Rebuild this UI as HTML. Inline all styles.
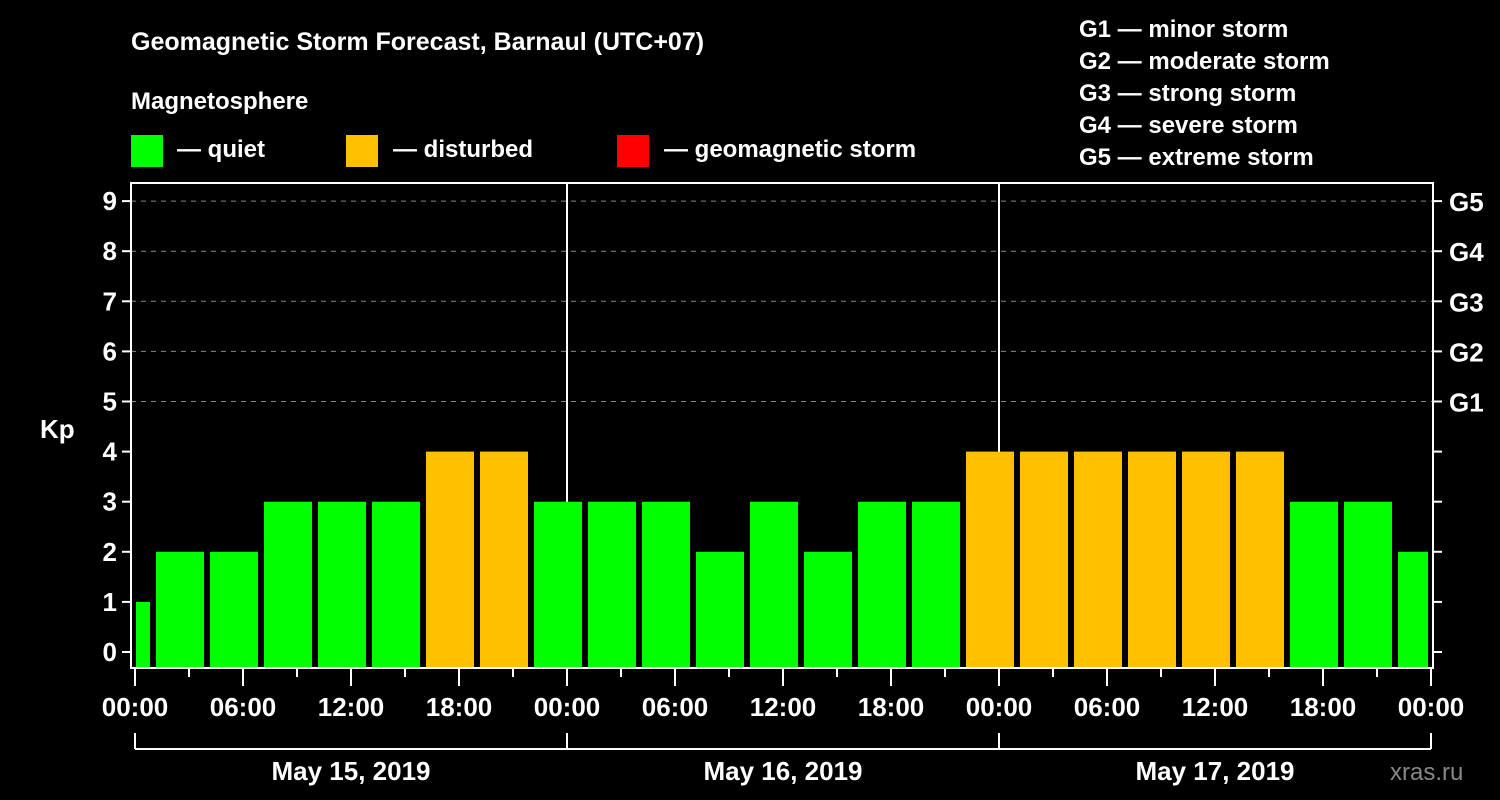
<!DOCTYPE html>
<html><head><meta charset="utf-8"><style>
html,body{margin:0;padding:0;background:#000;}
svg{display:block;font-family:"Liberation Sans",Arial,sans-serif;font-weight:bold;}
</style></head><body>
<svg id="c" width="1500" height="800" xmlns="http://www.w3.org/2000/svg">
<rect width="1500" height="800" fill="#000"/>
<text x="131" y="50" fill="#fff" font-size="25">Geomagnetic Storm Forecast, Barnaul (UTC+07)</text>
<text x="131" y="109" fill="#fff" font-size="24">Magnetosphere</text>
<g><rect x="131" y="135" width="32" height="32" fill="#00ff00"/><text x="177" y="157" fill="#fff" font-size="24">— quiet</text></g>
<g><rect x="346" y="135" width="32" height="32" fill="#ffc000"/><text x="393" y="157" fill="#fff" font-size="24">— disturbed</text></g>
<g><rect x="617" y="135" width="32" height="32" fill="#ff0000"/><text x="664" y="157" fill="#fff" font-size="24">— geomagnetic storm</text></g>
<g fill="#fff" font-size="24">
<text x="1079" y="37">G1 — minor storm</text>
<text x="1079" y="69">G2 — moderate storm</text>
<text x="1079" y="101">G3 — strong storm</text>
<text x="1079" y="133">G4 — severe storm</text>
<text x="1079" y="165">G5 — extreme storm</text>
</g>
<text x="40" y="438" fill="#fff" font-size="26">Kp</text>
<text x="1390" y="780" fill="#888" font-size="24" font-weight="normal">xras.ru</text>
<g id="grid"></g><g id="bars"></g><g id="axes"></g>
</svg>
<script>
const kpValues=[1,2,2,3,3,3,4,4,3,3,3,2,3,2,3,3,4,4,4,4,4,4,3,3,2];
const binStartHours=[-2,1,4,7,10,13,16,19,22,25,28,31,34,37,40,43,46,49,52,55,58,61,64,67,70];
const yTicks=[0,1,2,3,4,5,6,7,8,9];
const gLabels=["G1","G2","G3","G4","G5"];
const timeLabels=["00:00","06:00","12:00","18:00","00:00","06:00","12:00","18:00","00:00","06:00","12:00","18:00","00:00"];
const dayLabels=["May 15, 2019","May 16, 2019","May 17, 2019"];
const NS="http://www.w3.org/2000/svg";
const X=h=>135+h*18, Y=v=>652-v*50.1;
const L=131,R=1433,T=183,B=668;
function mk(p,t,a){const e=document.createElementNS(NS,t);for(const k in a)e.setAttribute(k,a[k]);p.appendChild(e);return e;}
const grid=document.getElementById('grid'),bars=document.getElementById('bars'),axes=document.getElementById('axes');
yTicks.forEach(v=>{if(v>=5){const l=mk(grid,'line',{x1:L,x2:R,y1:Y(v),y2:Y(v),stroke:'#888','stroke-dasharray':'5,5','stroke-width':1});

}});
[24,48].forEach(h=>{const l=mk(grid,'line',{x1:X(h),x2:X(h),y1:T,y2:B,stroke:'#fff','stroke-width':2});

});
kpValues.forEach((v,i)=>{const s=binStartHours[i];let x1=Math.max(X(s)+3,136),x2=Math.min(X(s+3)-3,1428);
const c=v>=5?'#ff0000':(v>=4?'#ffc000':'#00ff00');
const r=mk(bars,'rect',{x:x1,y:Y(v),width:x2-x1,height:B-1-Y(v),fill:c});

});
const fr=mk(axes,'rect',{x:L,y:T,width:R-L,height:B-T,fill:'none',stroke:'#fff','stroke-width':2});


yTicks.forEach(v=>{mk(axes,'line',{x1:L-9,x2:L,y1:Y(v),y2:Y(v),stroke:'#fff','stroke-width':2});
mk(axes,'line',{x1:R,x2:R+9,y1:Y(v),y2:Y(v),stroke:'#fff','stroke-width':2});
const t=mk(axes,'text',{x:L-14,y:Y(v)+9,fill:'#fff','font-size':26,'text-anchor':'end'});t.textContent=v;

});
gLabels.forEach((g,i)=>{const t=mk(axes,'text',{x:1449,y:Y(5+i)+10,fill:'#fff','font-size':26});t.textContent=g;

});
for(let h=0;h<=72;h+=3){const major=h%6===0;mk(axes,'line',{x1:X(h),x2:X(h),y1:B,y2:major?686:677,stroke:'#fff','stroke-width':2});}
timeLabels.forEach((s,i)=>{const t=mk(axes,'text',{x:X(i*6),y:716,fill:'#fff','font-size':26,'text-anchor':'middle'});t.textContent=s;

});
mk(axes,'line',{x1:X(0),x2:X(72),y1:749,y2:749,stroke:'#fff','stroke-width':2});
[0,24,48,72].forEach(h=>mk(axes,'line',{x1:X(h),x2:X(h),y1:733,y2:749,stroke:'#fff','stroke-width':2}));
dayLabels.forEach((s,i)=>{const t=mk(axes,'text',{x:X(i*24+12),y:780,fill:'#fff','font-size':26,'text-anchor':'middle'});t.textContent=s;

});
</script>
</body></html>
